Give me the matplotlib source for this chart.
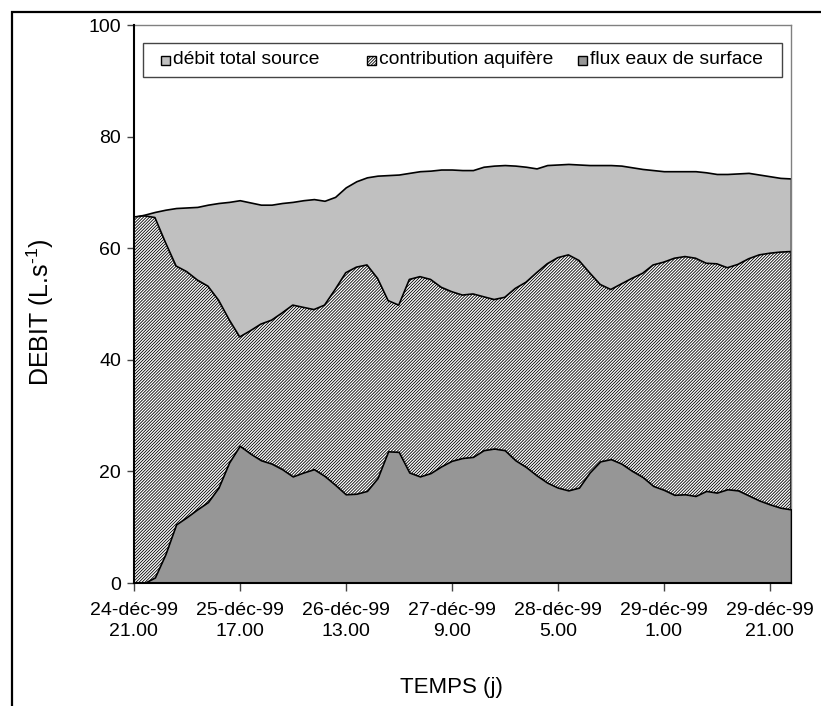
import numpy as np
import matplotlib
matplotlib.use("Agg")
import matplotlib.pyplot as plt
from matplotlib.patches import Rectangle

plt.rcParams['font.family'] = ['Liberation Sans', 'DejaVu Sans']
plt.rcParams['hatch.linewidth'] = 0.6
plt.rcParams['mathtext.fontset'] = 'custom'
plt.rcParams['mathtext.rm'] = 'Liberation Sans'
plt.rcParams['mathtext.it'] = 'Liberation Sans'
plt.rcParams['mathtext.bf'] = 'Liberation Sans'

# time in hours since 24-déc-99 21.00 (2-hour steps)
hours = list(range(0, 125, 2))

total = [65.6, 66.0, 66.5, 66.9, 67.2, 67.3, 67.4, 67.8, 68.1, 68.3,
         68.6, 68.2, 67.8, 67.8, 68.1, 68.3, 68.6, 68.8, 68.5, 69.2,
         70.9, 72.0, 72.7, 73.0, 73.1, 73.2, 73.5, 73.8, 73.9, 74.1,
         74.1, 74.0, 74.0, 74.6, 74.8, 74.9, 74.8, 74.6, 74.3, 74.9,
         75.0, 75.1, 75.0, 74.9, 74.9, 74.9, 74.8, 74.5, 74.2, 74.0,
         73.8, 73.8, 73.8, 73.8, 73.6, 73.3, 73.3, 73.4, 73.5, 73.2,
         72.9, 72.6, 72.5]

aquifer = [65.6, 65.8, 65.5, 61.0, 56.8, 55.8, 54.3, 53.2, 50.7, 47.2,
           44.1, 45.2, 46.4, 47.1, 48.4, 49.8, 49.4, 49.0, 49.8, 52.6,
           55.6, 56.6, 57.0, 54.6, 50.6, 49.8, 54.4, 54.9, 54.4, 53.0,
           52.2, 51.6, 51.8, 51.3, 50.8, 51.2, 52.8, 53.9, 55.6, 57.2,
           58.3, 58.8, 57.8, 55.6, 53.5, 52.6, 53.6, 54.6, 55.5, 57.0,
           57.5, 58.2, 58.5, 58.2, 57.3, 57.2, 56.5, 57.1, 58.1, 58.8,
           59.1, 59.3, 59.4]

surface = [0.0, 0.0, 1.0, 5.2, 10.5, 11.8, 13.2, 14.5, 17.1, 21.6,
           24.6, 23.2, 22.0, 21.4, 20.4, 19.1, 19.8, 20.4, 19.2, 17.6,
           15.9, 16.0, 16.5, 18.8, 23.6, 23.5, 19.8, 19.1, 19.7, 20.9,
           21.9, 22.4, 22.6, 23.8, 24.1, 23.8, 22.0, 20.8, 19.3, 18.0,
           17.1, 16.6, 17.1, 19.8, 21.8, 22.2, 21.4, 20.1, 19.0, 17.4,
           16.7, 15.8, 15.9, 15.6, 16.5, 16.2, 16.8, 16.6, 15.7, 14.8,
           14.1, 13.5, 13.2]

tick_hours = [0, 20, 40, 60, 80, 100, 120]
tick_labels = ["24-déc-99\n21.00", "25-déc-99\n17.00", "26-déc-99\n13.00",
               "27-déc-99\n9.00", "28-déc-99\n5.00", "29-déc-99\n1.00",
               "29-déc-99\n21.00"]
y_ticks = [0, 20, 40, 60, 80, 100]

series_names = ["débit total source", "contribution aquifère", "flux eaux de surface"]

HATCH = '/' * 11

W, H = 821, 706
fig = plt.figure(figsize=(W / 100, H / 100), dpi=100)

# outer frame (cropped on right/bottom)
fig.patches.append(Rectangle((12 / W, -0.1), 1.2, 1 - 11.5 / H + 0.1,
                             transform=fig.transFigure, fill=False,
                             edgecolor='black', linewidth=1.6, zorder=0))

left, right, top, bottom = 133.7, 791, 25, 583
ax = fig.add_axes([left / W, 1 - bottom / H, (right - left) / W, (bottom - top) / H])

ax.fill_between(hours, 0, total, facecolor='#C0C0C0', edgecolor='black', linewidth=1.2, zorder=1)
ax.fill_between(hours, 0, aquifer, facecolor='white', hatch=HATCH, edgecolor='black', linewidth=1.2, zorder=2)
ax.fill_between(hours, 0, surface, facecolor='#969696', edgecolor='black', linewidth=1.2, zorder=3)

ax.set_xlim(0, 124)
ax.set_ylim(0, 100)
ax.set_xticks(tick_hours)
ax.set_xticklabels(tick_labels, fontsize=14, linespacing=1.25)
ax.set_yticks(y_ticks)
ax.set_yticklabels([str(v) for v in y_ticks], fontsize=14)
ax.tick_params(axis='x', direction='out', length=6, width=1, color='#444444', pad=8)
ax.tick_params(axis='y', direction='out', length=5, width=1, color='#444444', pad=4)

for s in ['left', 'bottom']:
    ax.spines[s].set_color('black')
    ax.spines[s].set_linewidth(1.5)
    ax.spines[s].set_zorder(5)
for s in ['top', 'right']:
    ax.spines[s].set_color('#808080')
    ax.spines[s].set_linewidth(1.0)

# legend box (manual)
def ax_x(px):
    return (px - left) / (right - left)

def ax_y(py):
    return (bottom - py) / (bottom - top)

leg_left, leg_right, leg_top, leg_bot = 143, 782, 43, 77
ax.add_patch(Rectangle((ax_x(leg_left), ax_y(leg_bot)), ax_x(leg_right) - ax_x(leg_left),
                       ax_y(leg_top) - ax_y(leg_bot), transform=ax.transAxes,
                       facecolor='white', edgecolor='#444444', linewidth=1.0, zorder=6))
marker_x = [161, 367, 578]
styles = [dict(facecolor='#C0C0C0'), dict(facecolor='white', hatch=HATCH),
          dict(facecolor='#969696')]
size = 9
ymid = 60
for mx, name, st in zip(marker_x, series_names, styles):
    ax.add_patch(Rectangle((ax_x(mx), ax_y(ymid + size / 2)), ax_x(mx + size) - ax_x(mx),
                           ax_y(ymid - size / 2) - ax_y(ymid + size / 2), transform=ax.transAxes,
                           edgecolor='black', linewidth=1.0, zorder=7, **st))
    ax.text(ax_x(mx + size + 3), ax_y(ymid), name, transform=ax.transAxes,
            fontsize=13.9, va='center', ha='left', zorder=8)

fig.text(40 / W, 1 - 312 / H, r"DEBIT (L.s$^{\text{-}1}$)", rotation=90, fontsize=18,
         ha='center', va='center')
fig.text(451 / W, 1 - 688 / H, "TEMPS (j)", fontsize=16, ha='center', va='center')

fig.savefig("out.png", dpi=100)
